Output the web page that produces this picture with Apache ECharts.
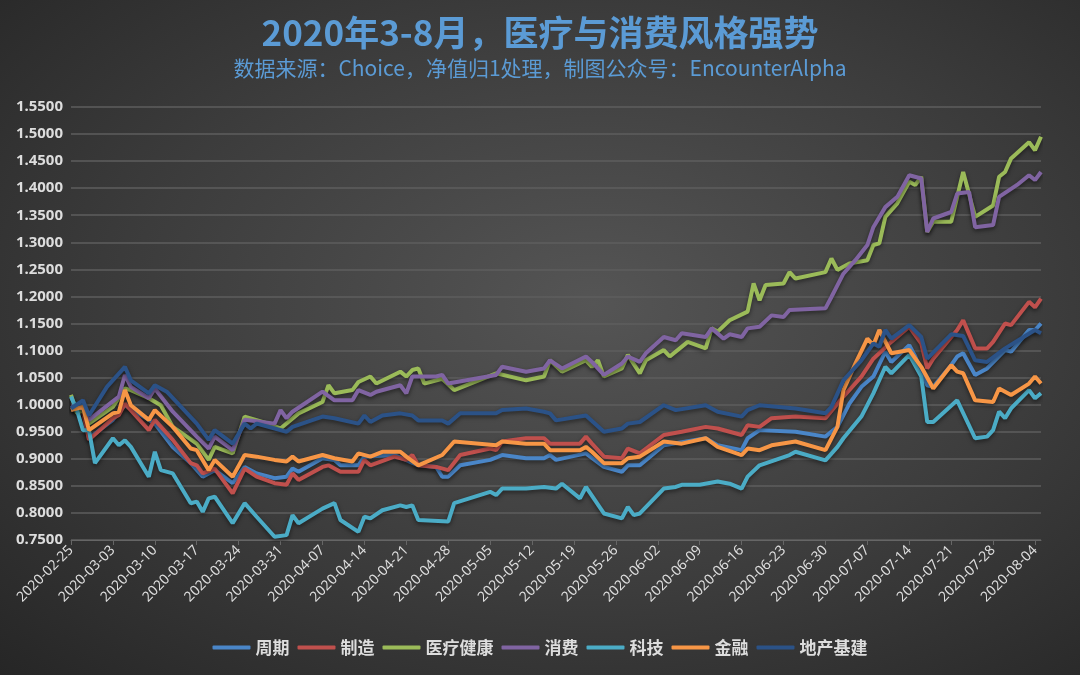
<!DOCTYPE html>
<html><head><meta charset="utf-8">
<script src="https://cdn.jsdelivr.net/npm/echarts@6/dist/echarts.min.js"></script>
<style>html,body{margin:0;padding:0;}#c{width:1080px;height:675px;background:radial-gradient(ellipse at 55% 45%,#555 0%,#3c3c3c 55%,#262626 100%);}</style>
</head><body><div id="c"></div>
<script>
const startDate = '2020-02-25';
const dayCount = 163;
const seriesNames = ['周期','制造','医疗健康','消费','科技','金融','地产基建'];
const colors = ['#4a86c8','#c0504d','#9bbb59','#8064a2','#4bacc6','#f79646','#2b5287'];
// [day offset from 2020-02-25, value]
const zhouqi = [[0,0.99],[2,0.999],[3,0.938],[7,0.972],[9,0.999],[13,0.972],[14,0.965],[17,0.922],[20,0.892],[22,0.867],[24,0.879],[27,0.855],[29,0.885],[31,0.873],[34,0.864],[36,0.867],[37,0.882],[38,0.876],[42,0.901],[44,0.898],[45,0.888],[48,0.888],[49,0.904],[54,0.907],[58,0.888],[61,0.885],[62,0.867],[63,0.867],[65,0.888],[70,0.898],[72,0.907],[76,0.901],[79,0.901],[80,0.907],[81,0.898],[86,0.91],[89,0.885],[92,0.876],[93,0.888],[95,0.888],[99,0.925],[106,0.938],[108,0.925],[112,0.916],[113,0.938],[115,0.953],[121,0.95],[126,0.941],[128,0.959],[130,1.002],[132,1.033],[134,1.052],[136,1.098],[137,1.079],[140,1.11],[141,1.089],[143,1.036],[144,1.033],[147,1.073],[148,1.089],[149,1.095],[151,1.055],[153,1.067],[156,1.101],[157,1.098],[160,1.138],[161,1.138],[162,1.15]];
const zhizao = [[0,0.996],[2,0.987],[3,0.935],[7,0.975],[8,0.981],[9,1.002],[13,0.953],[14,0.972],[17,0.935],[20,0.892],[21,0.888],[22,0.873],[24,0.882],[27,0.836],[29,0.882],[31,0.867],[34,0.855],[36,0.852],[37,0.873],[38,0.861],[42,0.885],[43,0.888],[45,0.876],[48,0.876],[49,0.898],[50,0.888],[54,0.904],[56,0.898],[57,0.907],[58,0.888],[61,0.885],[63,0.879],[65,0.907],[70,0.919],[71,0.916],[72,0.932],[76,0.938],[79,0.938],[80,0.928],[85,0.928],[86,0.941],[87,0.928],[89,0.904],[92,0.901],[93,0.919],[95,0.91],[99,0.944],[102,0.95],[106,0.959],[108,0.956],[112,0.944],[113,0.962],[115,0.959],[117,0.975],[121,0.978],[126,0.975],[129,1.015],[132,1.052],[134,1.085],[137,1.116],[140,1.144],[142,1.113],[143,1.067],[144,1.085],[148,1.138],[149,1.156],[151,1.104],[153,1.104],[154,1.116],[156,1.15],[157,1.147],[160,1.19],[161,1.18],[162,1.196]];
const yiliao = [[0,1.018],[1,0.984],[2,0.99],[3,0.965],[7,0.996],[9,1.03],[10,1.027],[13,1.012],[15,0.999],[17,0.959],[21,0.928],[23,0.898],[24,0.922],[27,0.91],[29,0.978],[33,0.965],[35,0.956],[38,0.984],[42,1.005],[43,1.036],[44,1.021],[47,1.027],[48,1.042],[50,1.052],[51,1.039],[55,1.061],[56,1.052],[57,1.064],[58,1.067],[59,1.039],[62,1.048],[64,1.027],[71,1.058],[76,1.045],[79,1.052],[80,1.082],[82,1.061],[86,1.082],[87,1.07],[88,1.082],[89,1.052],[92,1.067],[93,1.092],[95,1.058],[96,1.082],[99,1.101],[100,1.089],[103,1.116],[106,1.104],[107,1.141],[108,1.135],[110,1.156],[113,1.172],[114,1.224],[115,1.193],[116,1.221],[119,1.224],[120,1.245],[121,1.233],[126,1.245],[127,1.27],[128,1.249],[130,1.261],[133,1.267],[134,1.295],[135,1.298],[136,1.347],[138,1.372],[140,1.412],[141,1.406],[142,1.421],[143,1.319],[144,1.338],[147,1.338],[149,1.43],[151,1.347],[154,1.368],[155,1.421],[156,1.43],[157,1.455],[160,1.485],[161,1.47],[162,1.495]];
const xiaofei = [[0,0.999],[2,0.993],[3,0.972],[8,1.015],[9,1.055],[10,1.033],[13,1.012],[14,1.03],[17,0.987],[21,0.941],[23,0.919],[24,0.941],[27,0.916],[29,0.972],[34,0.965],[35,0.99],[36,0.975],[37,0.987],[42,1.024],[44,1.008],[47,1.008],[48,1.027],[50,1.018],[51,1.024],[55,1.036],[56,1.021],[57,1.052],[61,1.052],[62,1.055],[63,1.039],[71,1.055],[72,1.07],[76,1.061],[79,1.067],[80,1.082],[82,1.067],[86,1.089],[87,1.079],[89,1.055],[92,1.076],[93,1.089],[95,1.079],[96,1.095],[99,1.125],[101,1.119],[102,1.132],[106,1.125],[107,1.141],[109,1.122],[110,1.13],[112,1.125],[113,1.141],[115,1.144],[117,1.165],[119,1.162],[120,1.175],[126,1.178],[127,1.199],[129,1.242],[131,1.267],[133,1.295],[134,1.328],[136,1.365],[138,1.384],[140,1.424],[142,1.418],[143,1.319],[144,1.344],[147,1.356],[148,1.39],[150,1.393],[151,1.328],[154,1.332],[155,1.384],[158,1.406],[160,1.424],[161,1.415],[162,1.43]];
const keji = [[0,1.015],[1,0.99],[2,0.953],[3,0.953],[4,0.892],[7,0.938],[8,0.925],[9,0.934],[10,0.922],[13,0.867],[14,0.913],[15,0.879],[17,0.873],[20,0.818],[21,0.821],[22,0.802],[23,0.827],[24,0.83],[27,0.781],[29,0.818],[31,0.793],[34,0.756],[36,0.759],[37,0.796],[38,0.781],[42,0.808],[44,0.818],[45,0.787],[48,0.765],[49,0.793],[50,0.79],[52,0.805],[55,0.814],[56,0.811],[57,0.814],[58,0.787],[63,0.784],[64,0.818],[70,0.839],[71,0.833],[72,0.845],[76,0.845],[79,0.848],[81,0.845],[82,0.854],[85,0.827],[86,0.848],[89,0.799],[92,0.79],[93,0.811],[94,0.796],[95,0.799],[99,0.845],[101,0.848],[102,0.852],[105,0.852],[108,0.858],[110,0.854],[112,0.845],[113,0.867],[115,0.888],[120,0.907],[121,0.913],[126,0.897],[128,0.922],[129,0.938],[132,0.978],[134,1.021],[136,1.07],[137,1.058],[140,1.092],[142,1.052],[143,0.968],[144,0.968],[148,1.008],[151,0.938],[153,0.941],[154,0.953],[155,0.987],[156,0.975],[157,0.993],[160,1.027],[161,1.012],[162,1.021]];
const jinrong = [[0,0.99],[2,0.996],[3,0.953],[7,0.984],[8,0.987],[9,1.027],[10,0.999],[13,0.972],[14,0.99],[17,0.959],[20,0.919],[21,0.916],[23,0.879],[24,0.898],[27,0.867],[29,0.907],[31,0.904],[34,0.898],[36,0.895],[37,0.904],[38,0.895],[42,0.907],[44,0.901],[47,0.895],[48,0.91],[50,0.904],[52,0.913],[55,0.913],[56,0.904],[58,0.888],[62,0.907],[64,0.932],[71,0.925],[72,0.932],[76,0.928],[79,0.928],[80,0.916],[85,0.916],[86,0.922],[87,0.913],[89,0.892],[92,0.892],[93,0.901],[95,0.904],[99,0.932],[102,0.928],[106,0.938],[108,0.922],[112,0.907],[113,0.919],[115,0.916],[117,0.925],[121,0.932],[126,0.916],[128,0.959],[129,1.027],[131,1.076],[133,1.122],[134,1.11],[135,1.138],[137,1.095],[140,1.101],[142,1.07],[144,1.03],[147,1.073],[148,1.061],[149,1.058],[151,1.008],[154,1.005],[155,1.03],[157,1.018],[160,1.039],[161,1.052],[162,1.039]];
const dichan = [[0,0.993],[2,1.008],[3,0.98],[6,1.033],[9,1.07],[10,1.045],[13,1.021],[14,1.036],[16,1.024],[21,0.965],[23,0.935],[24,0.953],[27,0.928],[29,0.965],[30,0.956],[31,0.965],[36,0.95],[37,0.959],[42,0.978],[44,0.975],[48,0.965],[49,0.98],[50,0.968],[52,0.98],[55,0.984],[57,0.98],[58,0.971],[62,0.971],[63,0.965],[65,0.984],[71,0.984],[72,0.99],[76,0.993],[79,0.987],[80,0.984],[81,0.971],[86,0.98],[89,0.95],[92,0.956],[93,0.965],[95,0.968],[99,0.999],[101,0.99],[106,0.999],[108,0.987],[112,0.978],[113,0.99],[115,0.999],[121,0.993],[126,0.984],[127,0.996],[129,1.045],[132,1.082],[134,1.113],[135,1.107],[136,1.138],[137,1.122],[140,1.147],[142,1.125],[143,1.085],[147,1.13],[149,1.127],[151,1.082],[153,1.079],[156,1.104],[161,1.138],[162,1.132]];
const seriesData = [zhouqi,zhizao,yiliao,xiaofei,keji,jinrong,dichan];

const dates = [];
const d0 = new Date(startDate+'T00:00:00Z');
for (let i=0;i<dayCount;i++){const d=new Date(d0.getTime()+i*86400000);dates.push(d.toISOString().slice(0,10));}
function fill(pairs){const a=new Array(dayCount).fill(null);pairs.forEach(p=>{a[p[0]]=p[1];});return a;}

const chart = echarts.init(document.getElementById('c'), null, {renderer:'canvas'});
chart.setOption({
  backgroundColor:'transparent',
  title:[{text:'2020年3-8月，医疗与消费风格强势',left:'center',top:10,textStyle:{color:'#5b9bd5',fontSize:35,fontWeight:'bold',fontFamily:'Noto Sans CJK SC'}},
         {text:'数据来源：Choice，净值归1处理，制图公众号：EncounterAlpha',left:'center',top:53,textStyle:{color:'#5b9bd5',fontSize:21,fontWeight:'normal',fontFamily:'Noto Sans CJK SC'}}],
  legend:{bottom:14,left:'center',itemWidth:38,itemHeight:4,itemGap:8,icon:'roundRect',textStyle:{color:'#ddd',fontSize:17,fontWeight:'bold',fontFamily:'Noto Sans CJK SC'},data:seriesNames},
  grid:{left:71,right:39,top:107,bottom:135},
  xAxis:{type:'category',data:dates,boundaryGap:false,
    axisLine:{lineStyle:{color:'#666'}},axisTick:{interval:6,lineStyle:{color:'#666'}},
    axisLabel:{interval:6,rotate:45,color:'#ddd',fontSize:14,fontFamily:'Noto Sans'},splitLine:{show:false}},
  yAxis:{type:'value',min:0.75,max:1.55,interval:0.05,
    axisLabel:{color:'#ddd',fontSize:15,fontWeight:'bold',fontFamily:'Noto Sans'},
    axisLine:{show:false},axisTick:{show:false},splitLine:{lineStyle:{color:'#5e5e5e',width:1.5}}},
  series:seriesNames.map((n,i)=>({name:n,type:'line',data:fill(seriesData[i]),connectNulls:true,showSymbol:false,
    lineStyle:{width:4,color:colors[i],shadowColor:'rgba(0,0,0,0.5)',shadowBlur:4,shadowOffsetY:2},itemStyle:{color:colors[i]}}))
});
chart.setOption({yAxis:{axisLabel:{formatter:v=>v.toFixed(4)}}});
</script></body></html>
